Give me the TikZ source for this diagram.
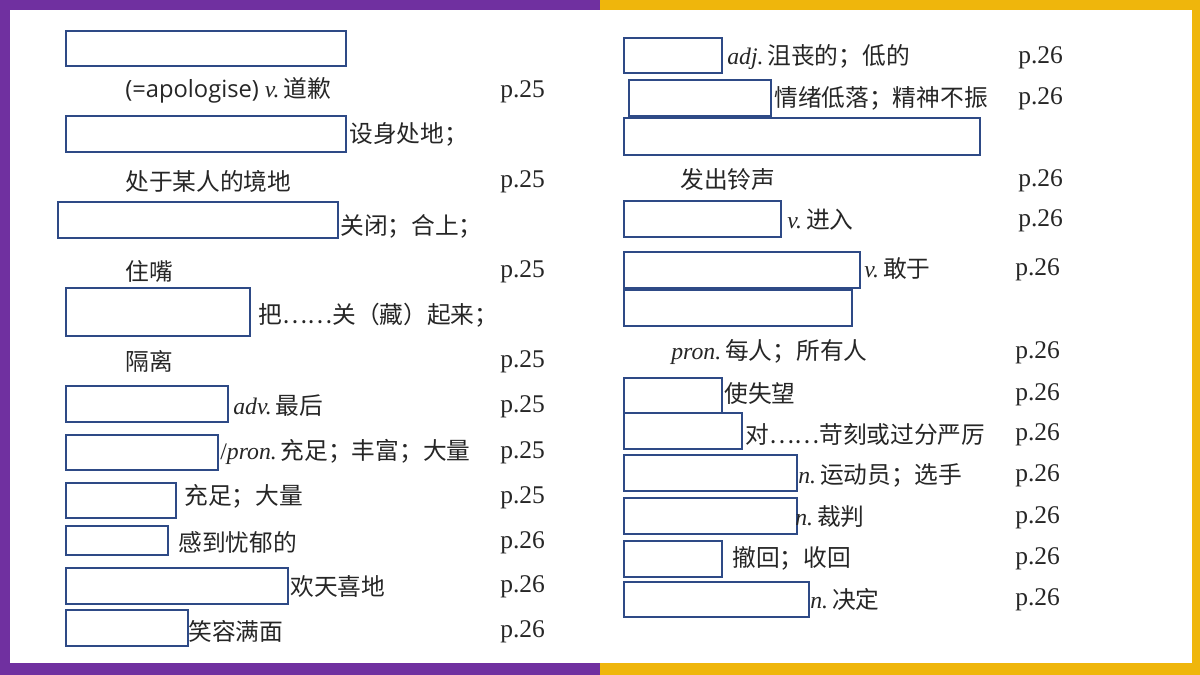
\documentclass[tikz,border=0pt]{standalone}
\usepackage{fontspec}
\setmainfont{Liberation Serif}
\newfontfamily\cjk{Noto Sans CJK SC}
\newfontfamily\plainsans{Open Sans}
\definecolor{framepurple}{HTML}{7030A0}
\definecolor{frameyellow}{HTML}{EFB60C}
\definecolor{boxblue}{HTML}{2E4A86}
\definecolor{inkgray}{HTML}{262626}
\begin{document}
\begin{tikzpicture}[x=0.02cm,y=-0.02cm,
  every node/.style={anchor=west,inner sep=0pt,text=inkgray,font=\fontsize{13.5}{15}\selectfont},
  blank/.style={draw=boxblue,line width=0.7pt},
  page/.style={font=\fontsize{14.5}{16}\selectfont}]
\useasboundingbox (0,0) rectangle (1200,675);
\fill[framepurple] (0,0) rectangle (600,675);
\fill[frameyellow] (600,0) rectangle (1200,675);
\fill[white] (10,10) rectangle (1192,663);
% left column
\draw[blank] (66,31) rectangle (346,66);
\node (l1) at (125,90) {{\plainsans (=apologise)} \textit{v.}\,{\cjk 道歉}};
\node[page] (p1) at (500,92) {p.25};
\draw[blank] (66,116) rectangle (346,152);
\node (l2) at (349,134) {\cjk 设身处地；};
\node (l2b) at (125,181) {\cjk 处于某人的境地};
\node[page] (p2) at (500,182) {p.25};
\draw[blank] (58,202) rectangle (338,238);
\node (l3) at (340,226) {\cjk 关闭；合上；};
\node (l3b) at (125,271) {\cjk 住嘴};
\node[page] (p3) at (500,272) {p.25};
\draw[blank] (66,288) rectangle (250,336);
\node (l4) at (258,315) {\cjk 把……关（藏）起来；};
\node (l4b) at (125,361) {\cjk 隔离};
\node[page] (p4) at (500,362) {p.25};
\draw[blank] (66,386) rectangle (228,422);
\node (l5) at (233,406) {\textit{adv.}\,{\cjk 最后}};
\node[page] (p5) at (500,407) {p.25};
\draw[blank] (66,435) rectangle (218,470);
\node (l6) at (220,452) {/\textit{pron.}\,{\cjk 充足；丰富；大量}};
\node[page] (p6) at (500,453) {p.25};
\draw[blank] (66,483) rectangle (176,518);
\node (l7) at (184,496) {\cjk 充足；大量};
\node[page] (p7) at (500,498) {p.25};
\draw[blank] (66,526) rectangle (168,555);
\node (l8) at (178,542) {\cjk 感到忧郁的};
\node[page] (p8) at (500,543) {p.26};
\draw[blank] (66,568) rectangle (288,604);
\node (l9) at (290,586) {\cjk 欢天喜地};
\node[page] (p9) at (500,587) {p.26};
\draw[blank] (66,610) rectangle (188,646);
\node (l10) at (188,631) {\cjk 笑容满面};
\node[page] (p10) at (500,632) {p.26};
% right column
\draw[blank] (624,38) rectangle (722,73);
\node (r1) at (727,57) {\textit{adj.}\,{\cjk 沮丧的；低的}};
\node[page] (q1) at (1018,58) {p.26};
\draw[blank] (629,80) rectangle (771,116);
\node (r2) at (774,98) {\cjk 情绪低落；精神不振};
\node[page] (q2) at (1018,99) {p.26};
\draw[blank] (624,118) rectangle (980,155);
\node (r3) at (680,180) {\cjk 发出铃声};
\node[page] (q3) at (1018,181) {p.26};
\draw[blank] (624,201) rectangle (781,237);
\node (r4) at (787,220) {\textit{v.}\,{\cjk 进入}};
\node[page] (q4) at (1018,221) {p.26};
\draw[blank] (624,252) rectangle (860,288);
\node (r5) at (864,269) {\textit{v.}\,{\cjk 敢于}};
\node[page] (q5) at (1015,270) {p.26};
\draw[blank] (624,290) rectangle (852,326);
\node (r6) at (671,352) {\textit{pron.}\,{\cjk 每人；所有人}};
\node[page] (q6) at (1015,353) {p.26};
\draw[blank] (624,378) rectangle (722,413);
\node (r7) at (724,394) {\cjk 使失望};
\node[page] (q7) at (1015,395) {p.26};
\draw[blank] (624,413) rectangle (742,449);
\node (r8) at (745,434) {\cjk 对……苛刻或过分严厉};
\node[page] (q8) at (1015,435) {p.26};
\draw[blank] (624,455) rectangle (797,491);
\node (r9) at (798,475) {\textit{n.}\,{\cjk 运动员；选手}};
\node[page] (q9) at (1015,476) {p.26};
\draw[blank] (624,498) rectangle (797,534);
\node (r10) at (795,517) {\textit{n.}\,{\cjk 裁判}};
\node[page] (q10) at (1015,518) {p.26};
\draw[blank] (624,541) rectangle (722,577);
\node (r11) at (732,558) {\cjk 撤回；收回};
\node[page] (q11) at (1015,559) {p.26};
\draw[blank] (624,582) rectangle (809,617);
\node (r12) at (810,599) {\textit{n.}\,{\cjk 决定}};
\node[page] (q12) at (1015,600) {p.26};
\end{tikzpicture}
\end{document}
